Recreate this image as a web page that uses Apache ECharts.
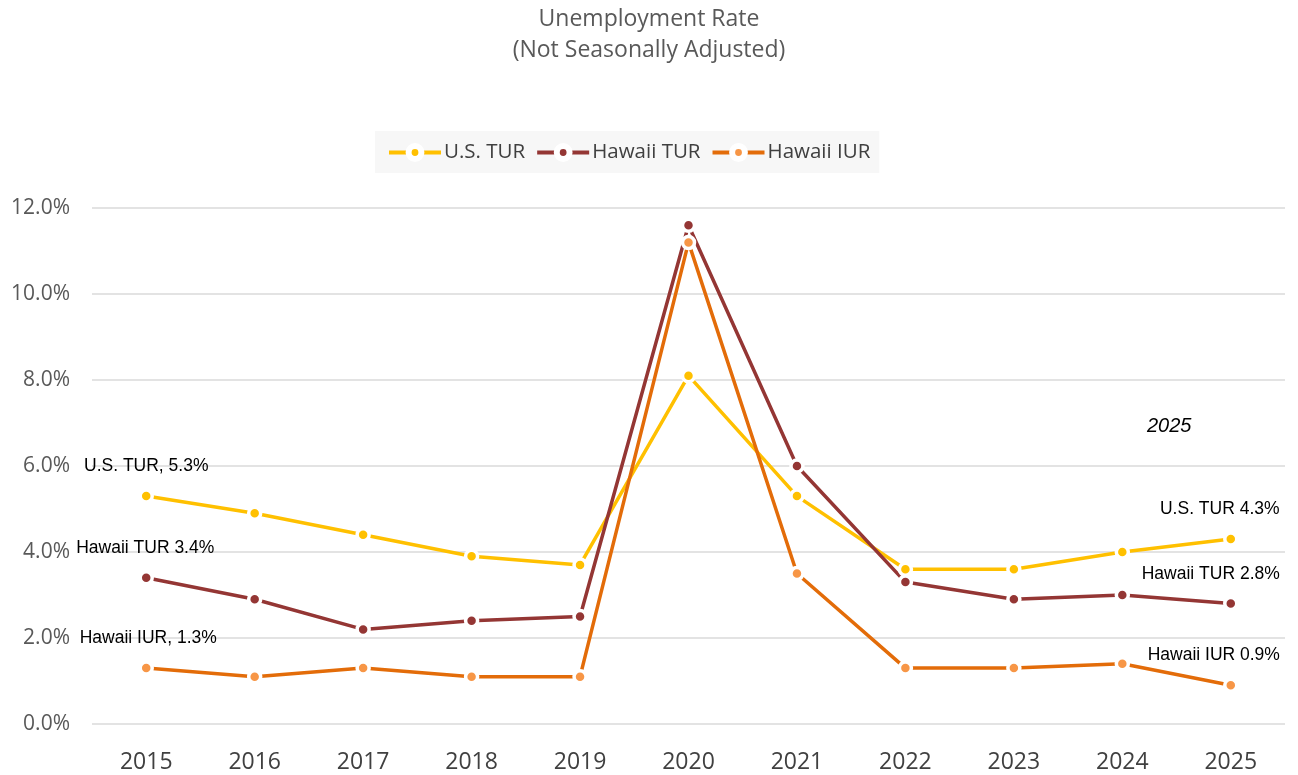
<!DOCTYPE html>
<html>
<head>
<meta charset="utf-8">
<title>Unemployment Rate</title>
<script src="https://cdn.jsdelivr.net/npm/echarts@6/dist/echarts.min.js"></script>
<style>
  html, body { margin: 0; padding: 0; background: #fff; }
  #main { width: 1298px; height: 775px; }
</style>
</head>
<body>
<div id="main"></div>
<script>
// years on the x axis
var years = ['2015', '2016', '2017', '2018', '2019', '2020', '2021', '2022', '2023', '2024', '2025'];

// rates in percent
var usTur = [5.3, 4.9, 4.4, 3.9, 3.7, 8.1, 5.3, 3.6, 3.6, 4.0, 4.3];
var hiTur = [3.4, 2.9, 2.2, 2.4, 2.5, 11.6, 6.0, 3.3, 2.9, 3.0, 2.8];
var hiIur = [1.3, 1.1, 1.3, 1.1, 1.1, 11.2, 3.5, 1.3, 1.3, 1.4, 0.9];

// end labels (first and last year)
var usLabels = ['U.S. TUR, 5.3%', 'U.S. TUR 4.3%'];
var hiTurLabels = ['Hawaii TUR 3.4%', 'Hawaii TUR 2.8%'];
var hiIurLabels = ['Hawaii IUR, 1.3%', 'Hawaii IUR 0.9%'];

var labelFont = '"Liberation Sans", Arial, sans-serif';
var uiFont = '"Open Sans", sans-serif';

// put a label on the first and last point only
function withEndLabels(values, labels, offFirst, offLast) {
  return values.map(function (v, i) {
    if (i === 0 || i === values.length - 1) {
      return {
        value: v,
        label: {
          show: true,
          position: 'top',
          distance: 13,
          offset: i === 0 ? offFirst : offLast,
          formatter: i === 0 ? labels[0] : labels[1],
          fontFamily: labelFont,
          fontSize: 17.5,
          color: '#000'
        }
      };
    }
    return v;
  });
}

function lineSeries(name, lineColor, dotColor, data) {
  return {
    name: name,
    type: 'line',
    data: data,
    symbol: 'circle',
    symbolSize: 12,
    lineStyle: { width: 3.5, color: lineColor },
    itemStyle: { color: dotColor, borderColor: '#fff', borderWidth: 3.5 },
    emphasis: { disabled: true },
    z: 3
  };
}

var chart = echarts.init(document.getElementById('main'));

var option = {
  animation: false,
  title: {
    text: 'Unemployment Rate\n(Not Seasonally Adjusted)',
    left: 'center',
    top: -1,
    textStyle: {
      fontFamily: uiFont,
      fontSize: 23,
      fontWeight: 'normal',
      color: '#595959',
      lineHeight: 31
    }
  },
  legend: {
    left: 375,
    top: 131,
    padding: [11, 9, 10, 12],
    backgroundColor: '#f7f7f7',
    itemWidth: 52,
    itemHeight: 16,
    itemGap: 10,
    itemStyle: { borderColor: '#fff', borderWidth: 6 },
    lineStyle: { width: 4 },
    textStyle: {
      fontFamily: uiFont,
      fontSize: 20.5,
      color: '#404040',
      padding: [0, 0, 0, -2]
    },
    data: ['U.S. TUR', 'Hawaii TUR', 'Hawaii IUR']
  },
  grid: {
    left: 92,
    right: 13,
    top: 208,
    bottom: 51
  },
  xAxis: {
    type: 'category',
    data: years,
    boundaryGap: true,
    axisLine: { show: false },
    axisTick: { show: false },
    axisLabel: {
      margin: 27,
      fontFamily: uiFont,
      fontSize: 23,
      color: '#404040'
    }
  },
  yAxis: {
    type: 'value',
    min: 0,
    max: 12,
    interval: 2,
    axisLine: { show: false },
    axisTick: { show: false },
    axisLabel: {
      margin: 22,
      fontFamily: uiFont,
      fontSize: 21,
      color: '#595959',
      formatter: function (v) { return v.toFixed(1) + '%'; }
    },
    splitLine: { lineStyle: { color: '#e3e3e3', width: 2 } }
  },
  graphic: [{
    type: 'text',
    left: 1147,
    top: 416,
    style: {
      text: '2025',
      font: 'italic 20px ' + labelFont,
      fill: '#000'
    }
  }],
  series: [
    lineSeries('U.S. TUR', '#ffc000', '#ffc000', withEndLabels(usTur, usLabels, [0, 0], [-11, 0])),
    lineSeries('Hawaii TUR', '#943634', '#943634', withEndLabels(hiTur, hiTurLabels, [-1, 0], [-20, 0])),
    lineSeries('Hawaii IUR', '#e36c09', '#f79646', withEndLabels(hiIur, hiIurLabels, [2, 0], [-17, 0]))
  ]
};

chart.setOption(option);
</script>
</body>
</html>
